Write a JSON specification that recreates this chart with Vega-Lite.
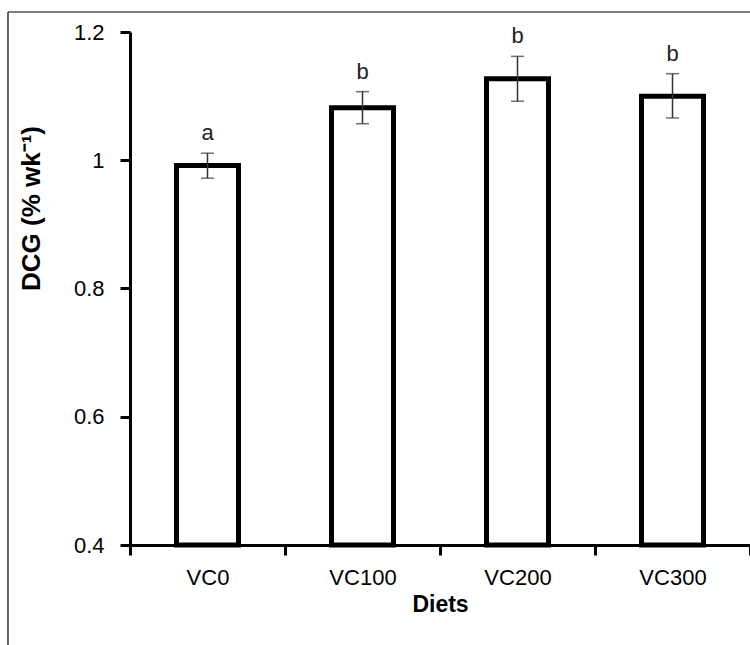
{
  "$schema": "https://vega.github.io/schema/vega-lite/v6.json",
  "autosize": {"type": "none"},
  "width": 620,
  "height": 513,
  "padding": {"left": 130, "top": 32, "right": 0, "bottom": 100},
  "background": "white",
  "config": {
    "view": {"stroke": null},
    "font": "Liberation Sans"
  },
  "datasets": {
    "diets": [
      {"diet": "VC0", "dcg": 0.992, "lo": 0.972, "hi": 1.011, "letter": "a"},
      {"diet": "VC100", "dcg": 1.082, "lo": 1.057, "hi": 1.107, "letter": "b"},
      {"diet": "VC200", "dcg": 1.127, "lo": 1.092, "hi": 1.162, "letter": "b"},
      {"diet": "VC300", "dcg": 1.100, "lo": 1.066, "hi": 1.135, "letter": "b"}
    ],
    "frame": [
      {"left": -0.1968, "right": 1.1, "top": 1.2312, "bottom": 0.2}
    ]
  },
  "resolve": {"scale": {"x": "independent"}, "axis": {"x": "independent"}},
  "layer": [
    {
      "data": {"name": "diets"},
      "encoding": {
        "x": {
          "field": "diet",
          "type": "nominal",
          "sort": null,
          "scale": {"paddingInner": 0, "paddingOuter": 0},
          "title": "Diets",
          "axis": {
            "labelAngle": 0,
            "tickBand": "extent",
            "domainColor": "black",
            "domainWidth": 3,
            "tickColor": "black",
            "tickWidth": 3,
            "tickSize": 10,
            "labelFontSize": 22,
            "labelColor": "black",
            "labelPadding": 12,
            "titleFontSize": 23,
            "titleFontWeight": "bold",
            "titleColor": "black",
            "titlePadding": 5
          }
        }
      },
      "layer": [
        {
          "mark": {"type": "bar", "fill": "white", "stroke": "black", "strokeWidth": 5, "width": {"band": 0.4}},
          "encoding": {
            "y": {
              "field": "dcg",
              "type": "quantitative",
              "scale": {"domain": [0.4, 1.2], "zero": false, "nice": false},
              "title": "DCG (% wk⁻¹)",
              "axis": {
                "values": [0.4, 0.6, 0.8, 1, 1.2],
                "format": "~g",
                "grid": false,
                "domainColor": "black",
                "domainWidth": 3,
                "tickColor": "black",
                "tickWidth": 3,
                "tickSize": 10,
                "labelFontSize": 22,
                "labelColor": "black",
                "labelPadding": 16,
                "titleFontSize": 26,
                "titleFontWeight": "bold",
                "titleColor": "black",
                "titleAngle": -90,
                "titleX": -99,
                "titleY": 176,
                "titleAlign": "center",
                "titleBaseline": "middle"
              }
            },
            "y2": {"datum": 0.4}
          }
        },
        {
          "mark": {"type": "rule", "color": "#333333", "strokeWidth": 1.5},
          "encoding": {"y": {"field": "lo", "type": "quantitative"}, "y2": {"field": "hi"}}
        },
        {
          "mark": {"type": "tick", "color": "#333333", "thickness": 1.5, "size": 13, "orient": "horizontal"},
          "encoding": {"y": {"field": "lo", "type": "quantitative"}}
        },
        {
          "mark": {"type": "tick", "color": "#333333", "thickness": 1.5, "size": 13, "orient": "horizontal"},
          "encoding": {"y": {"field": "hi", "type": "quantitative"}}
        },
        {
          "mark": {"type": "text", "fontSize": 22, "color": "#222222", "baseline": "alphabetic", "dy": -13},
          "encoding": {"y": {"field": "hi", "type": "quantitative"}, "text": {"field": "letter"}}
        }
      ]
    },
    {
      "data": {"name": "frame"},
      "mark": {"type": "rule", "color": "black", "strokeWidth": 1.2},
      "encoding": {
        "x": {"field": "left", "type": "quantitative", "scale": {"domain": [0, 1]}, "axis": null},
        "y": {"field": "top", "type": "quantitative"},
        "y2": {"field": "bottom"}
      }
    },
    {
      "data": {"name": "frame"},
      "mark": {"type": "rule", "color": "black", "strokeWidth": 1.2},
      "encoding": {
        "x": {"field": "left", "type": "quantitative", "scale": {"domain": [0, 1]}, "axis": null},
        "x2": {"field": "right"},
        "y": {"field": "top", "type": "quantitative"}
      }
    }
  ]
}
